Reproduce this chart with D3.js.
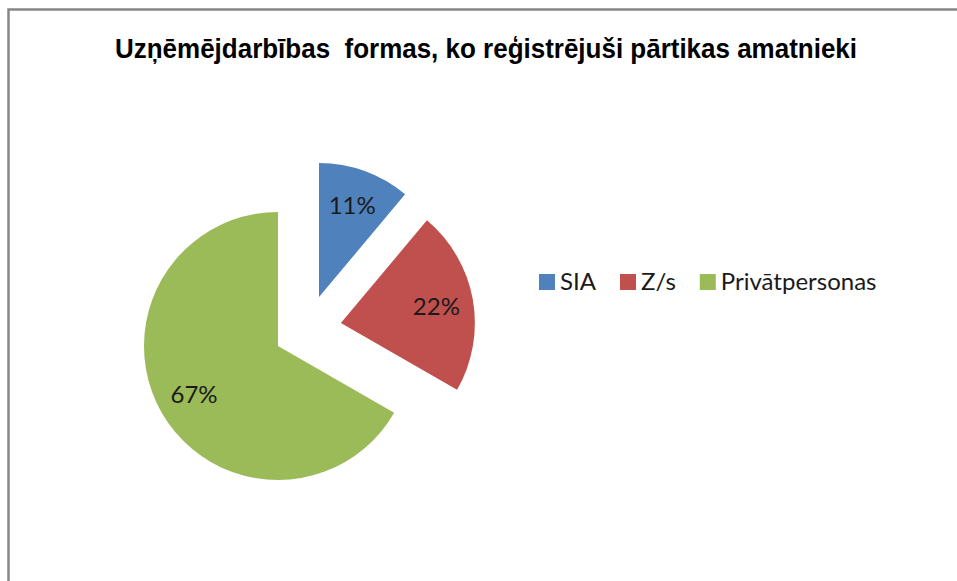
<!DOCTYPE html>
<html>
<head>
<meta charset="utf-8">
<script src="https://cdn.jsdelivr.net/npm/d3@7"></script>
<style>
  html, body { margin: 0; padding: 0; background: #fff; }
  svg { display: block; }
</style>
</head>
<body>
<svg id="chart" width="957" height="581"></svg>
<script>
// ---- data ----
const titleText = "Uzņēmējdarbības  formas, ko reģistrējuši pārtikas amatnieki";
const categories = ["SIA", "Z/s", "Privātpersonas"];
const values = [11.1, 22.2, 66.7];
const labels = ["11%", "22%", "67%"];
const colors = ["#4F81BD", "#C0504D", "#9BBB59"];

// ---- layout ----
const W = 957, H = 581;
const cx = 307.4, cy = 329, R = 134, explode = 34, labelR = 97;

const svg = d3.select("#chart");
svg.append("rect").attr("width", W).attr("height", H).attr("fill", "#fff");

// border (top + left visible)
svg.append("path")
  .attr("d", `M8.5,${H + 5} L8.5,9.5 L${W + 5},9.5`)
  .attr("fill", "none").attr("stroke", "#878787").attr("stroke-width", 2.5);

// title
svg.append("text")
  .attr("x", 486).attr("y", 58)
  .attr("text-anchor", "middle")
  .attr("font-family", "'Liberation Sans Narrow', 'Arial Narrow', 'Liberation Sans', Arial, sans-serif")
  .attr("font-weight", "bold")
  .attr("font-size", 28)
  .attr("textLength", 742)
  .attr("lengthAdjust", "spacingAndGlyphs")
  .attr("fill", "#000")
  .style("white-space", "pre")
  .text(titleText);

// pie
const pie = d3.pie().sort(null).value(d => d.v).startAngle(0).endAngle(2 * Math.PI);
const data = categories.map((c, i) => ({ c, v: values[i], lab: labels[i], col: colors[i] }));
const arcs = pie(data);
const arc = d3.arc().innerRadius(0).outerRadius(R);
const labelArc = d3.arc().innerRadius(labelR).outerRadius(labelR);

const g = svg.append("g").attr("transform", `translate(${cx},${cy})`);
const slices = g.selectAll("g.slice").data(arcs).join("g")
  .attr("class", "slice")
  .attr("transform", d => {
    const a = (d.startAngle + d.endAngle) / 2;
    return `translate(${explode * Math.sin(a)},${-explode * Math.cos(a)})`;
  });

slices.append("path")
  .attr("d", arc)
  .attr("fill", d => d.data.col);

slices.append("text")
  .attr("transform", d => {
    const [x, y] = labelArc.centroid(d);
    return `translate(${x},${y + 8.5})`;
  })
  .attr("text-anchor", "middle")
  .attr("font-family", "Lato, 'Open Sans', sans-serif")
  .attr("font-size", 24)
  .attr("fill", "#1a1a1a")
  .text(d => d.data.lab);

// legend
const leg = svg.append("g").attr("transform", "translate(539,274)");
let lx = 0;
data.forEach((d, i) => {
  const item = leg.append("g").attr("transform", `translate(${lx},0)`);
  item.append("rect").attr("width", 16).attr("height", 16).attr("fill", d.col);
  const t = item.append("text")
    .attr("x", 21).attr("y", 16)
    .attr("font-family", "Lato, 'Open Sans', sans-serif")
    .attr("font-size", 24)
    .attr("fill", "#1a1a1a")
    .text(d.c);
  const w = t.node().getComputedTextLength();
  lx += 21 + w + 24;
});
</script>
</body>
</html>
